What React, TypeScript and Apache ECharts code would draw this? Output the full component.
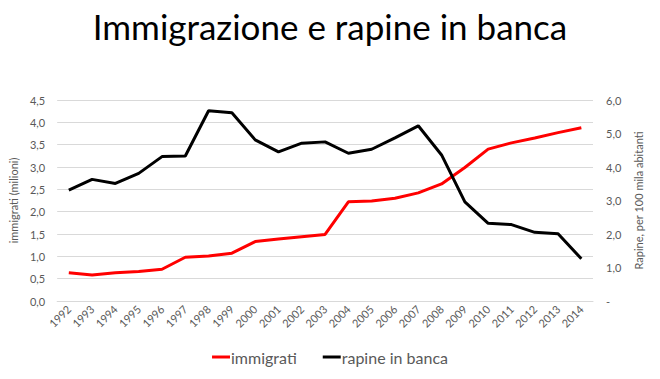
import React, { useEffect, useRef } from "react";
import * as echarts from "echarts";

const years = ["1992","1993","1994","1995","1996","1997","1998","1999","2000","2001","2002","2003","2004","2005","2006","2007","2008","2009","2010","2011","2012","2013","2014"];
const immigrati = [0.63,0.58,0.63,0.66,0.71,0.98,1.01,1.07,1.33,1.39,1.44,1.49,2.22,2.24,2.3,2.42,2.62,2.99,3.4,3.54,3.65,3.77,3.88];
const rapine = [3.31,3.63,3.51,3.81,4.31,4.33,5.68,5.62,4.81,4.45,4.71,4.75,4.41,4.53,4.87,5.23,4.36,2.96,2.32,2.28,2.05,2.01,1.26];

const FONT = "Lato, 'Open Sans', sans-serif";
const GREY = "#595959";

export default function App() {
  const ref = useRef<HTMLDivElement>(null);
  useEffect(() => {
    const chart = echarts.init(ref.current!, null, { renderer: "svg" });
    chart.setOption({
      animation: false,
      backgroundColor: "#ffffff",
      textStyle: { fontFamily: FONT },
      title: {
        text: "Immigrazione e rapine in banca",
        left: "center",
        top: 3,
        textStyle: { fontFamily: FONT, fontSize: 35, fontWeight: "normal", color: "#000000" },
      },
      legend: {
        bottom: 9,
        left: "center",
        itemWidth: 18,
        itemHeight: 3,
        itemGap: 26,
        icon: "rect",
        textStyle: { fontFamily: FONT, fontSize: 16, color: GREY, padding: [0, 0, 0, -4] },
        data: ["immigrati", "rapine in banca"],
      },
      grid: { left: 52, right: 67, top: 100, bottom: 78 },
      xAxis: {
        type: "category",
        data: years,
        boundaryGap: true,
        axisLine: { show: true, lineStyle: { color: "#d9d9d9" } },
        axisTick: { show: false },
        axisLabel: { rotate: 45, color: GREY, fontSize: 11, fontFamily: FONT, margin: 6, interval: 0 },
      },
      yAxis: [
        {
          type: "value",
          min: 0,
          max: 4.5,
          interval: 0.5,
          name: "immigrati (milioni)",
          nameLocation: "middle",
          nameGap: 33,
          nameTextStyle: { color: GREY, fontSize: 11, fontFamily: FONT },
          axisLine: { show: false },
          axisTick: { show: false },
          axisLabel: {
            color: GREY,
            fontSize: 11,
            fontFamily: FONT,
            margin: 12,
            formatter: (v: number) => v.toFixed(1).replace(".", ","),
          },
          splitLine: { lineStyle: { color: "#d9d9d9", width: 1 } },
        },
        {
          type: "value",
          min: 0,
          max: 6,
          interval: 1,
          name: "Rapine, per 100 mila abitanti",
          nameLocation: "middle",
          nameGap: 40,
          nameRotate: 90,
          nameTextStyle: { color: GREY, fontSize: 11, fontFamily: FONT },
          axisLine: { show: false },
          axisTick: { show: false },
          splitLine: { show: false },
          axisLabel: {
            color: GREY,
            fontSize: 11,
            fontFamily: FONT,
            margin: 13,
            formatter: (v: number) => (v === 0 ? "-" : v.toFixed(1).replace(".", ",")),
          },
        },
      ],
      series: [
        {
          name: "immigrati",
          type: "line",
          yAxisIndex: 0,
          data: immigrati,
          symbol: "none",
          color: "#ff0000",
          lineStyle: { color: "#ff0000", width: 3 },
        },
        {
          name: "rapine in banca",
          type: "line",
          yAxisIndex: 1,
          data: rapine,
          symbol: "none",
          color: "#000000",
          lineStyle: { color: "#000000", width: 3 },
        },
      ],
    });
    return () => chart.dispose();
  }, []);
  return <div ref={ref} style={{ width: 660, height: 379, position: "absolute", left: 0, top: 0 }} />;
}
